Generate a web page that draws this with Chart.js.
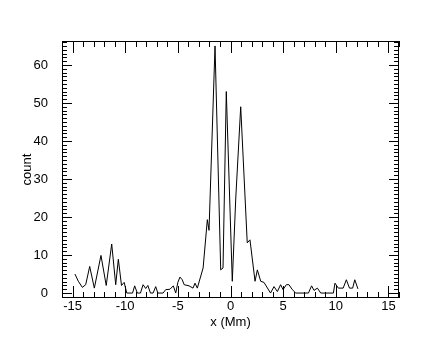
<!DOCTYPE html>
<html><head><meta charset="utf-8">
<script src="https://cdn.jsdelivr.net/npm/chart.js@4.4.0/dist/chart.umd.min.js"></script>
<style>html,body{margin:0;padding:0;background:#fff;}#wrap{width:431px;height:345px;}</style>
</head><body><div id="wrap"><canvas id="c" width="431" height="345"></canvas></div>
<script>
// Data
const xPositions = [-14.77,-14.45,-14.07,-13.75,-13.37,-12.93,-12.3,-11.8,-11.28,-10.9,-10.65,-10.35,-10.1,-9.85,-9.3,-9.1,-8.85,-8.55,-8.3,-8.05,-7.85,-7.6,-7.35,-7.1,-6.9,-6.4,-6.15,-5.75,-5.43,-5.2,-5.0,-4.8,-4.58,-4.4,-3.94,-3.56,-3.37,-3.15,-2.6,-2.2,-2.04,-1.47,-0.93,-0.71,-0.4,0.17,0.5,0.97,1.59,1.85,2.33,2.55,2.87,3.18,3.8,4.13,4.45,4.76,4.99,5.3,5.55,5.87,6.2,7.4,7.7,7.93,8.25,8.57,9.77,9.92,10.24,10.7,11.0,11.3,11.6,11.8,12.1];
const counts =     [5.0,3.1,1.5,2.2,7.0,1.3,9.9,2.0,12.9,2.2,8.9,2.0,2.8,0,0,1.9,0,0,2.2,1.2,2.0,0,0,1.7,0,0,0.9,1.0,1.9,0,2.8,4.2,3.5,2.2,1.9,1.3,2.6,1.3,6.6,19.3,16.5,65,6.1,6.6,53,3.1,25,49,13.2,14,3.1,6.1,3.1,2.8,0,1.7,0.4,2.2,0.9,2.2,2.2,0.9,0,0,1.9,0.7,1.3,0,0,2.6,1.3,1.3,3.5,1.3,1.3,3.5,1.1];
const xTickValues = [-15,-10,-5,0,5,10,15];
const yTickValues = [0,10,20,30,40,50,60];
const xRange = [-16,16];
const yRange = [-1.3,66.3];
const xTitle = 'x (Mm)';
const yTitle = 'count';

const FONT = {family:"'Liberation Sans', Arial, Helvetica, sans-serif", size:13};

const boxTicks = {
  id:'boxTicks',
  afterDraw(chart){
    const ctx = chart.ctx, a = chart.chartArea;
    const xs = chart.scales.x, ys = chart.scales.y;
    ctx.save();
    ctx.strokeStyle = '#000'; ctx.lineWidth = 1;
    ctx.strokeRect(Math.round(a.left)+0.5, Math.round(a.top)+0.5, Math.round(a.right-a.left)-1, Math.round(a.bottom-a.top)-1);
    ctx.beginPath();
    for (let v = Math.ceil(xRange[0]); v <= xRange[1]; v++) {
      const p = Math.round(xs.getPixelForValue(v)) + 0.5;
      const len = (v % 5 === 0) ? 12 : 6;
      ctx.moveTo(p, a.bottom); ctx.lineTo(p, a.bottom - len);
      ctx.moveTo(p, a.top); ctx.lineTo(p, a.top + len);
    }
    for (let v = Math.ceil(yRange[0]); v <= yRange[1]; v++) {
      const p = Math.round(ys.getPixelForValue(v)) + 0.5;
      const len = (v % 10 === 0) ? 10 : 5;
      ctx.moveTo(a.left, p); ctx.lineTo(a.left + len, p);
      ctx.moveTo(a.right, p); ctx.lineTo(a.right - len, p);
    }
    ctx.stroke();
    ctx.restore();
  }
};

new Chart(document.getElementById('c'), {
  type:'line',
  data:{datasets:[{
    data: xPositions.map((x,i)=>({x:x, y:counts[i]})),
    borderColor:'#000', borderWidth:1, pointRadius:0, tension:0, fill:false
  }]},
  options:{
    responsive:false, animation:false, devicePixelRatio:1,
    layout:{padding:{top:41, right:32, left:0, bottom:0}},
    plugins:{legend:{display:false}, tooltip:{enabled:false}},
    scales:{
      x:{type:'linear', min:xRange[0], max:xRange[1],
        afterBuildTicks:s=>{s.ticks = xTickValues.map(v=>({value:v}));},
        afterFit:s=>{s.height = 47;},
        grid:{display:false, drawTicks:false}, border:{display:false},
        ticks:{color:'#000', font:FONT, padding:1, maxRotation:0, autoSkip:false, callback:v=>String(v)},
        title:{display:true, text:xTitle, color:'#000', font:FONT, padding:{top:0,bottom:15}}
      },
      y:{type:'linear', min:yRange[0], max:yRange[1],
        afterBuildTicks:s=>{s.ticks = yTickValues.map(v=>({value:v}));},
        afterFit:s=>{s.width = 62;},
        grid:{display:false, drawTicks:false}, border:{display:false},
        ticks:{color:'#000', font:FONT, padding:14, autoSkip:false, callback:v=>String(v)},
        title:{display:true, text:yTitle, color:'#000', font:FONT, padding:{top:20,bottom:0}}
      }
    }
  },
  plugins:[boxTicks]
});
</script></body></html>
